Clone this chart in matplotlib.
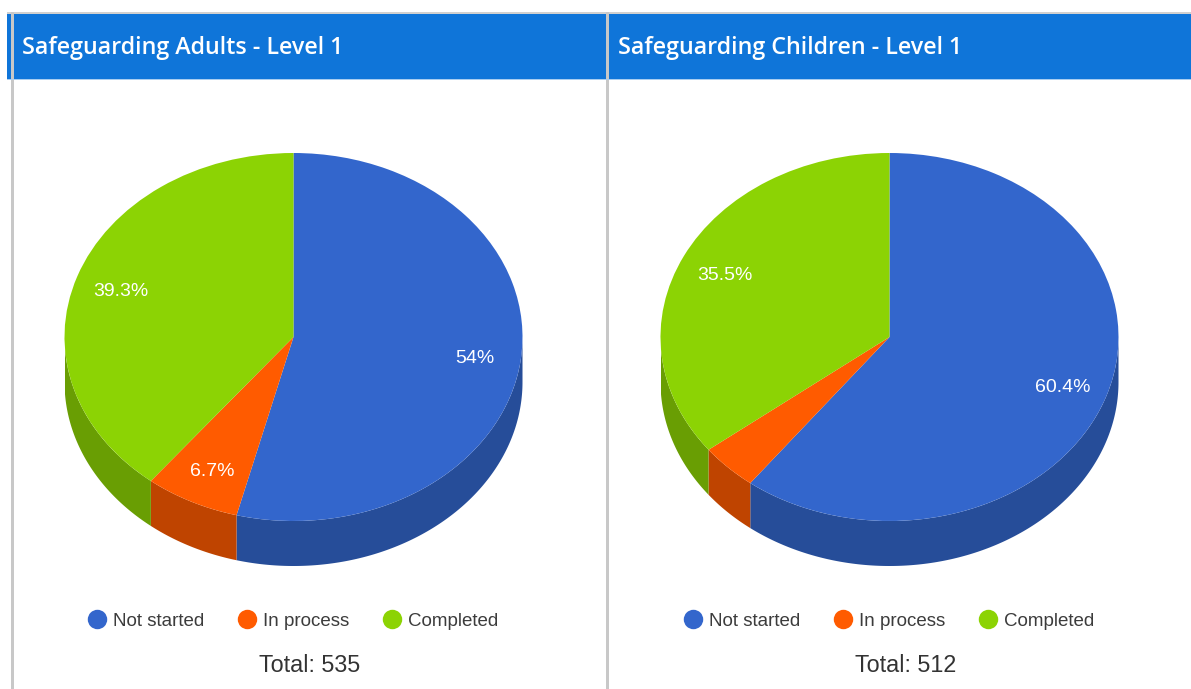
import numpy as np
import matplotlib
matplotlib.use('Agg')
import matplotlib.pyplot as plt
from matplotlib.lines import Line2D
from matplotlib.patches import Rectangle

W, H = 1191, 689
titles = ['Safeguarding Adults - Level 1', 'Safeguarding Children - Level 1']
categories = ['Not started', 'In process', 'Completed']
adults = [54.0, 6.7, 39.3]
children = [60.4, 4.1, 35.5]
totals = [535, 512]

colors = ['#3366cc', '#ff5b00', '#8cd304']
side_colors = ['#264d99', '#bf4400', '#699e03']
header_blue = '#0f75d9'
border = '#c8c8c8'

plt.rcParams['font.family'] = ['Liberation Sans', 'DejaVu Sans']
fig = plt.figure(figsize=(W / 100, H / 100), dpi=100)

# page furniture, in pixels
bg = fig.add_axes([0, 0, 1, 1])
bg.set_xlim(0, W)
bg.set_ylim(H, 0)
bg.axis('off')
bg.add_patch(Rectangle((7, 14), W - 7, 65, color=header_blue, lw=0))
bg.add_patch(Rectangle((7, 12), W - 7, 2, color='#d0d0d0', lw=0))
bg.add_patch(Rectangle((11, 12), 3, H - 12, color=border, lw=0))
bg.add_patch(Rectangle((606, 12), 3, H - 12, color=border, lw=0))
bg.add_patch(Rectangle((7, 79), W - 7, 1, color='#a9cdf0', lw=0))


def pct_text(p):
    # small slices get no label
    if p < 5:
        return ''
    s = f'{p:.1f}'
    return (s[:-2] if s.endswith('.0') else s) + '%'


def draw_pie(x0, values, title, total):
    # pie box in pixels: 458 wide, 368 tall, side wall 45 deep
    left, top, pw, ph, depth = x0 + 64.5, 153, 458, 368, 45
    ax = fig.add_axes([left / W, 1 - (top + ph + depth) / H, pw / W, (ph + depth) / H])
    d = 2 * depth / ph

    # side wall first, only the front half of each slice shows
    start = 90.0
    for v, c in zip(values, side_colors):
        end = start - v * 3.6
        if end < 0 and start > -180:
            a = np.radians(np.linspace(max(end, -180), min(start, 0), 200))
            xs = np.cos(a)
            ys = np.sin(a)
            ax.fill(np.r_[xs, xs[::-1]], np.r_[ys, ys[::-1] - d], color=c, lw=0)
        start = end

    wedges, _, autotexts = ax.pie(values, colors=colors, startangle=90, counterclock=False,
                                  autopct=pct_text, pctdistance=0.8,
                                  wedgeprops={'linewidth': 0},
                                  textprops={'color': 'white', 'fontsize': 14})
    for t in autotexts:
        px, py = t.get_position()
        t.set_position((px, py - 0.015))
    ax.set_aspect('auto')
    ax.set_xlim(-1, 1)
    ax.set_ylim(-1 - d, 1)

    handles = [Line2D([], [], marker='o', ls='', color=c, markersize=14, markeredgewidth=0) for c in colors]
    cx = x0 + 293
    fig.legend(handles, categories, loc='center', bbox_to_anchor=((cx - 4.5) / W, 1 - 621 / H),
               ncol=3, frameon=False, fontsize=13.5,
               handletextpad=-0.13, columnspacing=1.26, labelcolor='#3c3c3c')

    bg.text(cx + 17, 665, f'Total: {total}', ha='center', va='center', fontsize=16.8, color='#333333')
    bg.text(x0 + 22, 48.5, title, ha='left', va='center', color='white', fontsize=16.75,
            family=['Open Sans', 'DejaVu Sans'], fontweight='semibold')


draw_pie(0, adults, titles[0], totals[0])
draw_pie(596, children, titles[1], totals[1])

fig.savefig('out.png', dpi=100)
